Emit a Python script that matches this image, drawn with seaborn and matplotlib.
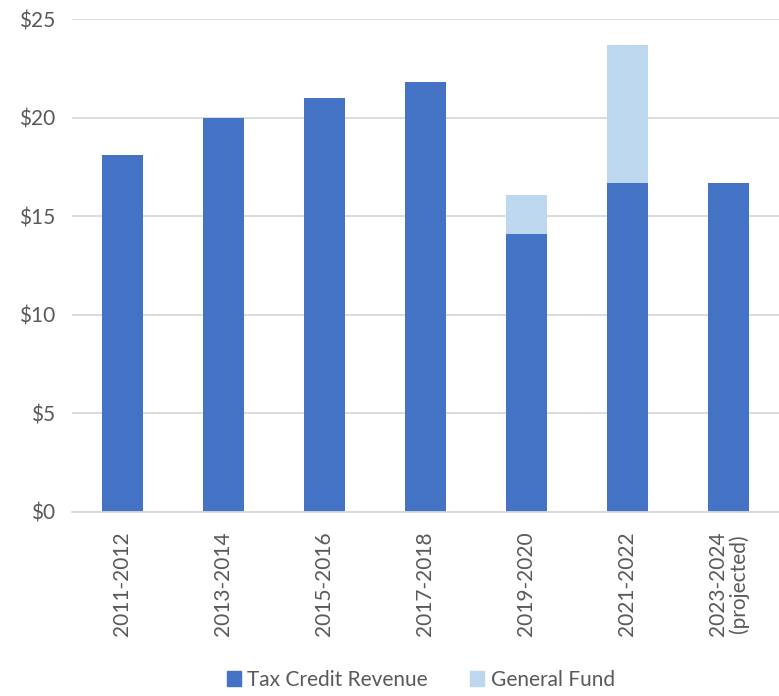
import matplotlib
matplotlib.use("Agg")
import matplotlib.pyplot as plt
import seaborn as sns
import pandas as pd
from matplotlib.patches import Patch
from matplotlib.ticker import FuncFormatter

periods = ["2011-2012", "2013-2014", "2015-2016", "2017-2018", "2019-2020", "2021-2022", "2023-2024\n(projected)"]
tax_credit = [18.1, 20.0, 21.0, 21.8, 14.1, 16.7, 16.7]
general_fund = [0.0, 0.0, 0.0, 0.0, 2.0, 7.0, 0.0]
yticks = [0, 5, 10, 15, 20, 25]

sns.set_theme(style="white")
plt.rcParams['font.family'] = ['Lato', 'DejaVu Sans']

dark = "#4472C4"
light = "#BDD7EE"

df = pd.DataFrame({"period": periods, "tax": tax_credit, "gf": general_fund})
df["total"] = df["tax"] + df["gf"]

fig = plt.figure(figsize=(7.79, 6.96), dpi=100)
ax = fig.add_axes([0.0924, 0.2644, 0.9076, 0.7083])

sns.barplot(data=df, x="period", y="total", color=light, saturation=1, width=0.4, ax=ax, linewidth=0)
sns.barplot(data=df, x="period", y="tax", color=dark, saturation=1, width=0.4, ax=ax, linewidth=0)

ax.set_ylim(0, 25)
ax.set_yticks(yticks)
ax.yaxis.set_major_formatter(FuncFormatter(lambda v, p: f"${v:.0f}"))
ax.grid(axis="y", color="#D9D9D9", linewidth=1.3)
ax.set_axisbelow(True)
for s in ["top", "right", "left"]:
    ax.spines[s].set_visible(False)
ax.spines["bottom"].set_color("#D9D9D9")
ax.spines["bottom"].set_linewidth(1.3)
ax.set_xlabel("")
ax.set_ylabel("")
ax.tick_params(axis="y", labelsize=15, colors="#595959", length=0, pad=12)
ax.tick_params(axis="x", labelsize=15, colors="#595959", length=0, pad=14)
for lbl in ax.get_xticklabels():
    lbl.set_rotation(90)
    lbl.set_va("top")
    lbl.set_ha("center")
    lbl.set_linespacing(1.0)
ax.set_xlim(-0.5, 6.5)

handles = [Patch(color=dark, label="Tax Credit Revenue"), Patch(color=light, label="General Fund")]
fig.legend(handles=handles, loc="lower center", bbox_to_anchor=(0.54, -0.018), ncol=2, frameon=False,
           fontsize=15, handlelength=0.7, handleheight=0.7, handletextpad=0.3, columnspacing=2.0,
           labelcolor="#595959")

fig.savefig("out.png", dpi=100)
